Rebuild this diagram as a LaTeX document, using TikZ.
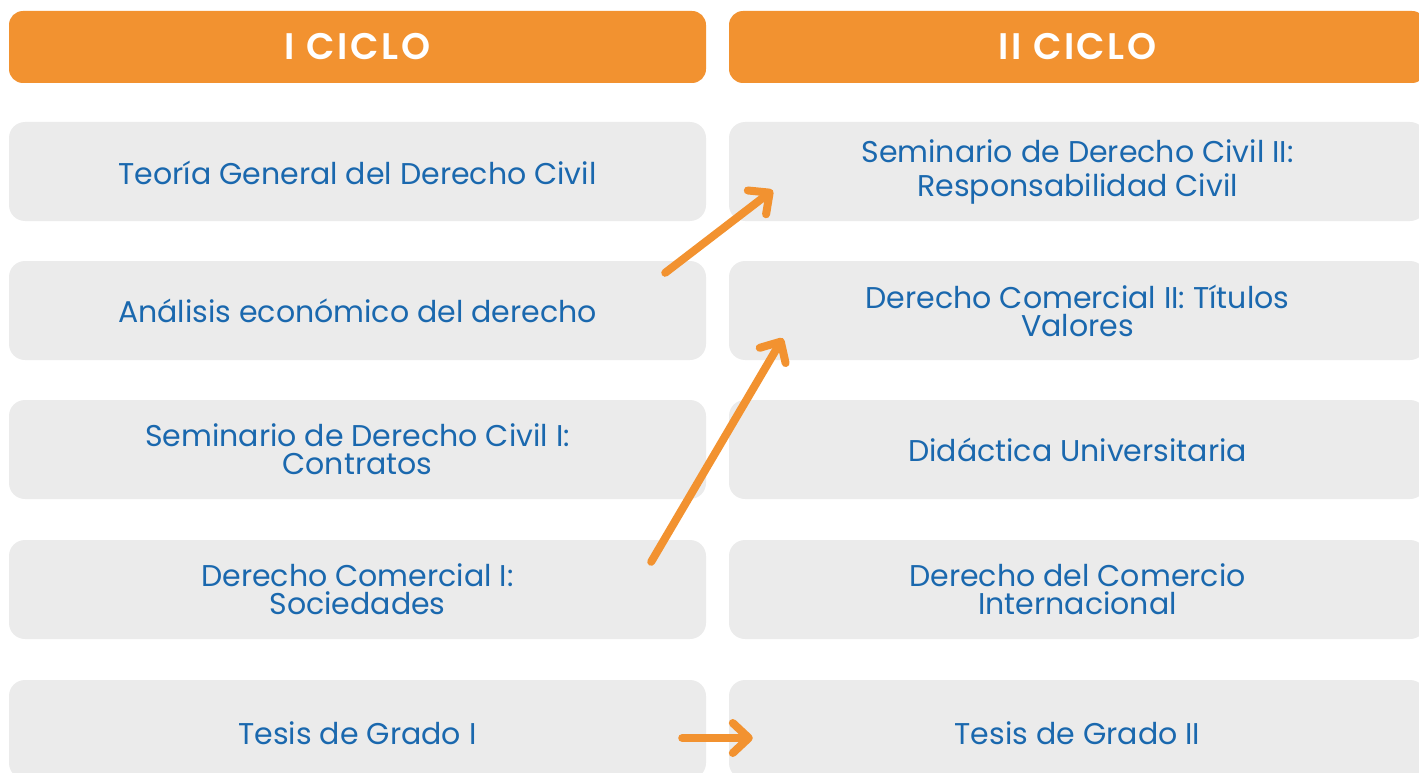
\documentclass[tikz,border=0pt]{standalone}
\usepackage{fontspec}
\setmainfont{Poppins}
\newfontfamily\cabecerafont[LetterSpace=7]{Poppins SemiBold}
\usetikzlibrary{arrows.meta}
\definecolor{ciclonaranja}{HTML}{F29230}
\definecolor{cursogris}{HTML}{EBEBEB}
\definecolor{cursoazul}{HTML}{1A68AE}

\begin{document}
\begin{tikzpicture}[x=1pt,y=-1pt,
    cabecera/.style={fill=ciclonaranja,rounded corners=14pt,minimum width=697pt,
      minimum height=72pt,inner sep=0pt,text=white,
      font=\fontsize{37}{37}\selectfont\cabecerafont},
    curso/.style={fill=cursogris,rounded corners=16pt,minimum width=697pt,
      minimum height=99pt,inner sep=0pt,text=cursoazul,align=center,
      font=\fontsize{30}{28}\selectfont},
    flecha/.style={draw=ciclonaranja,line width=8pt,line cap=round,
      -{Straight Barb[length=16pt,width=30pt,round]}}]
        \useasboundingbox (0,0) rectangle (1419,773);
        % cabeceras
        \node[cabecera] (c1) at (357.5,47) {I CICLO};
        \node[cabecera] (c2) at (1077.5,47) {II CICLO};
        % cursos del primer ciclo
        \node[curso] (l1) at (357.5,171.5) {\raisebox{-13pt}[0pt][0pt]{Teoría General del Derecho Civil}};
        \node[curso] (l2) at (357.5,310.5) {Análisis económico del derecho};
        \node[curso] (l3) at (357.5,449.5) {Seminario de Derecho Civil I:\\Contratos};
        \node[curso] (l4) at (357.5,589.5) {Derecho Comercial I:\\Sociedades};
        \node[curso] (l5) at (357.5,729.5) {\raisebox{-15pt}[0pt][0pt]{Tesis de Grado I}};
        % cursos del segundo ciclo
        \node[curso,font=\fontsize{30}{34}\selectfont] (r1) at (1077.5,171.5) {Seminario de Derecho Civil II:\\Responsabilidad Civil};
        \node[curso] (r2) at (1077.5,310.5) {Derecho Comercial II: Títulos\\Valores};
        \node[curso] (r3) at (1077.5,449.5) {Didáctica Universitaria};
        \node[curso] (r4) at (1077.5,589.5) {Derecho del Comercio\\Internacional};
        \node[curso] (r5) at (1077.5,729.5) {\raisebox{-15pt}[0pt][0pt]{Tesis de Grado II}};
        % flechas
        \draw[flecha] ([xshift=-41pt,yshift=-12pt]l2.north east) -- ([xshift=44pt,yshift=31pt]r1.south west);
        \draw[flecha] ([xshift=-55pt,yshift=-22pt]l4.north east) -- ([xshift=54pt,yshift=22pt]r2.south west);
        \draw[flecha] ([xshift=-24pt,yshift=-8.5pt]l5.east) -- ([xshift=24pt,yshift=-8.5pt]r5.west);
      \end{tikzpicture}
\end{document}
